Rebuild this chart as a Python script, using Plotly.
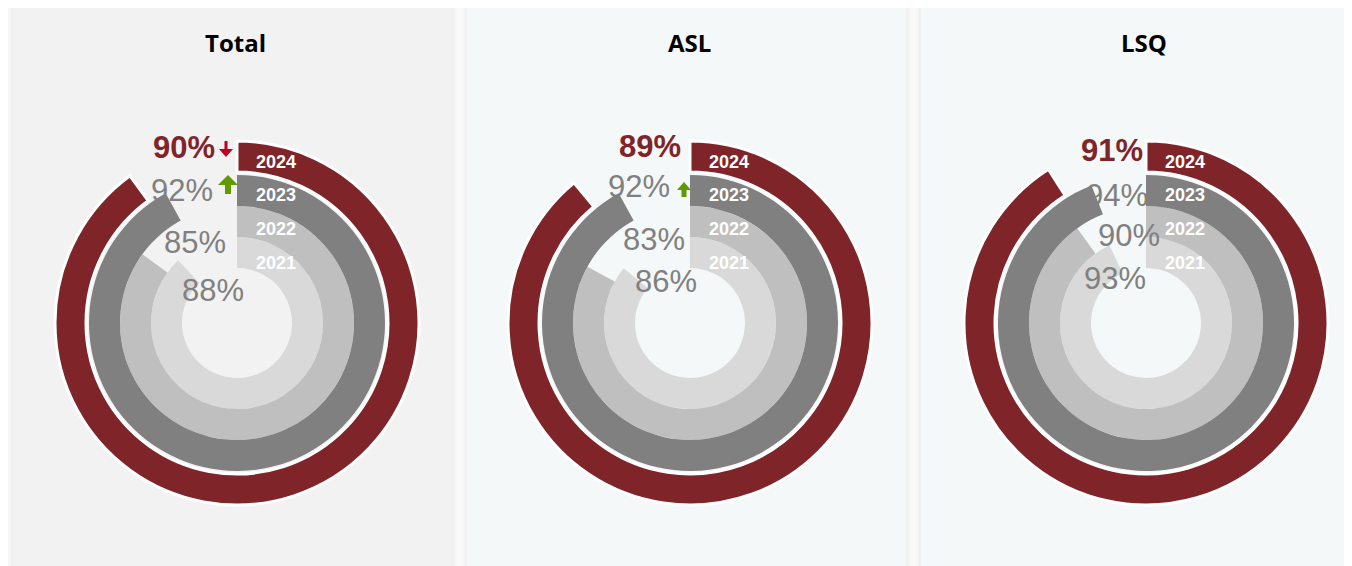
"""Concentric ring (radial bar) charts: survey score per year for Total, ASL and LSQ."""

import plotly.graph_objects as go

# the page body keeps its default 8px margin, so the figure is drawn 8px in
OFF = 8
W, H = 1352, 566 - OFF

# ---- data -------------------------------------------------------------------
panels = ["Total", "ASL", "LSQ"]
years = ["2021", "2022", "2023", "2024"]
total_pct = [88, 85, 92, 90]
asl_pct = [86, 83, 92, 89]
lsq_pct = [93, 90, 94, 91]
total_trend = ["", "", "up", "down"]
asl_trend = ["", "", "up", ""]
lsq_trend = ["", "", "", ""]

values = [total_pct, asl_pct, lsq_pct]
trends = [total_trend, asl_trend, lsq_trend]

# ---- styling / layout ---------------------------------------------------------
RING_COLORS = ["#D9D9D9", "#BFBFBF", "#808080", "#7F252A"]
RED = "#7F252A"
GRAY_TXT = "#808080"
PANEL_X = [13, 467, 921]
PANEL_W = 439
PANEL_BG = ["#F2F2F2", "#F5F8F8", "#F5F8F8"]
CENTER_X = [237, 690, 1146]
CENTER_Y = 323
R_MAX = 185
RING_INNER = [55, 86, 117, 151]
RING_WIDTH = [31, 31, 31, 31]

# percent label placement (right edge dx, centre dy) relative to ring centre
LABEL_POS = [
    [(9, -33), (-9, -81), (-22, -133), (-20, -175)],
    [(9, -42), (-3, -83), (-18, -136), (-7, -176)],
    [(2, -45), (16, -88), (4, -128), (-1, -173)],
]
YEAR_DY = [-60, -94, -128, -161]
# trend arrow glyph: (centre dx, top dy, bottom dy, head width, shaft width, head length)
ARROW_UP = {0: (-9, -148, -129, 20, 6, 10), 1: (-6, -141, -126, 14, 5, 8)}
ARROW_DOWN = {0: (-11, -182, -166, 14, 3, 8)}


def px(sx):
    return (sx - OFF) / W


def py(sy):
    return 1 - (sy - OFF) / H


def arrow_path(cx, top, bottom, hw, sw, hl, up):
    """Closed SVG path for a block arrow, in paper coordinates."""
    if up:
        pts = [(cx, top), (cx + hw / 2, top + hl), (cx + sw / 2, top + hl),
               (cx + sw / 2, bottom), (cx - sw / 2, bottom), (cx - sw / 2, top + hl),
               (cx - hw / 2, top + hl)]
    else:
        pts = [(cx, bottom), (cx + hw / 2, bottom - hl), (cx + sw / 2, bottom - hl),
               (cx + sw / 2, top), (cx - sw / 2, top), (cx - sw / 2, bottom - hl),
               (cx - hw / 2, bottom - hl)]
    return "M " + " L ".join(f"{px(x):.5f},{py(y):.5f}" for x, y in pts) + " Z"


fig = go.Figure()
shapes = []
annotations = []

for i, name in enumerate(panels):
    x0 = PANEL_X[i]
    # soft drop shadow then the panel card
    for k, a in [(6, 0.008), (4, 0.012), (2, 0.018)]:
        shapes.append(dict(type="rect", xref="paper", yref="paper", layer="below",
                           x0=px(x0 - k), x1=px(x0 + PANEL_W + k),
                           y0=-0.1, y1=py(7 - k),
                           fillcolor=f"rgba(0,0,0,{a})", line_width=0))
    shapes.append(dict(type="rect", xref="paper", yref="paper", layer="below",
                       x0=px(x0), x1=px(x0 + PANEL_W), y0=-0.1, y1=py(7),
                       fillcolor=PANEL_BG[i], line_width=0))

    pid = "polar" if i == 0 else f"polar{i + 1}"
    cx = CENTER_X[i]
    for j, yr in enumerate(years):
        v = values[i][j]
        outer = j == len(years) - 1
        fig.add_trace(go.Barpolar(
            r=[RING_WIDTH[j]], base=[RING_INNER[j]],
            theta=[v * 3.6 / 2], width=[v * 3.6],
            marker=dict(color=RING_COLORS[j],
                        line=dict(color="white", width=3 if outer else 0)),
            name=yr, subplot=pid, showlegend=False, hoverinfo="skip",
        ))
        # year label inside ring start
        annotations.append(dict(
            x=px(cx + 17), y=py(CENTER_Y + YEAR_DY[j]), xref="paper", yref="paper",
            text=f"<b>{yr}</b>", showarrow=False, xanchor="left", yanchor="middle",
            font=dict(family="Liberation Sans, Arial", size=18, color="white"),
        ))
        # percent label
        dx, dy = LABEL_POS[i][j]
        annotations.append(dict(
            x=px(cx + dx), y=py(CENTER_Y + dy), xref="paper", yref="paper",
            text=f"<b>{v}%</b>" if outer else f"{v}%", showarrow=False,
            xanchor="right", yanchor="middle",
            font=dict(family="Liberation Sans, Arial", size=31,
                      color=RED if outer else GRAY_TXT),
        ))
        tr = trends[i][j]
        if tr == "up":
            adx, t, b, hw, sw, hl = ARROW_UP[i]
            shapes.append(dict(type="path", xref="paper", yref="paper", line_width=0,
                               fillcolor="#5E9A00",
                               path=arrow_path(cx + adx, CENTER_Y + t, CENTER_Y + b,
                                               hw, sw, hl, True)))
        elif tr == "down":
            adx, t, b, hw, sw, hl = ARROW_DOWN[i]
            shapes.append(dict(type="path", xref="paper", yref="paper", line_width=0,
                               fillcolor="#C0001E",
                               path=arrow_path(cx + adx, CENTER_Y + t, CENTER_Y + b,
                                               hw, sw, hl, False)))

    fig.update_layout(**{pid: dict(
        domain=dict(x=[px(cx - R_MAX), px(cx + R_MAX)],
                    y=[py(CENTER_Y + R_MAX), py(CENTER_Y - R_MAX)]),
        bgcolor="rgba(0,0,0,0)", hole=0, bargap=0,
        radialaxis=dict(range=[0, R_MAX], visible=False),
        angularaxis=dict(direction="clockwise", rotation=90, visible=False),
    )})

    annotations.append(dict(
        x=px(x0 + PANEL_W / 2 + 3), y=py(43), xref="paper", yref="paper",
        text=f"<b>{name}</b>", showarrow=False, xanchor="center", yanchor="middle",
        font=dict(family="Open Sans, Segoe UI", size=24, color="black"),
    ))

fig.update_layout(
    width=W, height=H, margin=dict(l=0, r=0, t=0, b=0),
    paper_bgcolor="#FAFAFA", plot_bgcolor="#FAFAFA",
    shapes=shapes, annotations=annotations, showlegend=False,
)

fig.write_html("out.html")
